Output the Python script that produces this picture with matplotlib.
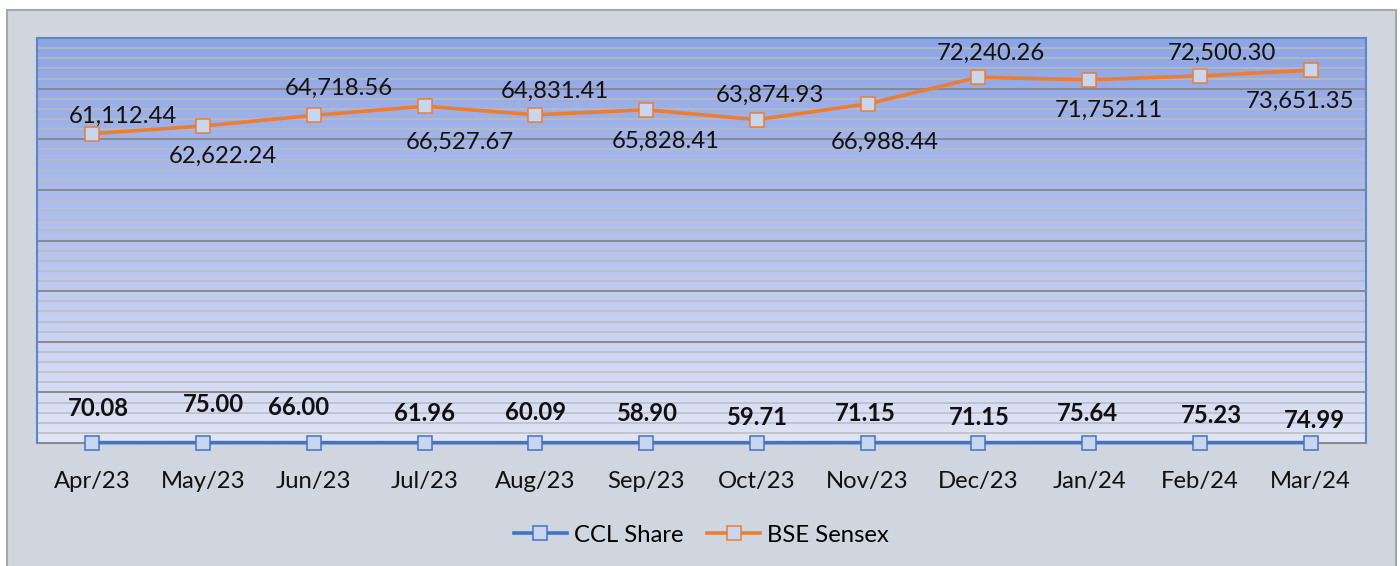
import numpy
from matplotlib import pyplot
from matplotlib.patches import Rectangle
from matplotlib.colors import LinearSegmentedColormap
from matplotlib.ticker import MultipleLocator

months = ['Apr/23', 'May/23', 'Jun/23', 'Jul/23', 'Aug/23', 'Sep/23',
          'Oct/23', 'Nov/23', 'Dec/23', 'Jan/24', 'Feb/24', 'Mar/24']
ccl_share = [70.08, 75.00, 66.00, 61.96, 60.09, 58.90,
             59.71, 71.15, 71.15, 75.64, 75.23, 74.99]
bse_sensex = [61112.44, 62622.24, 64718.56, 66527.67, 64831.41, 65828.41,
              63874.93, 66988.44, 72240.26, 71752.11, 72500.30, 73651.35]

# label offsets in pixels (dx, dy) - the labels were placed by hand in the original
sensex_dx = [30, 20, 25, 35, 19, 20, 13, 17, 13, 20, 22, -11]
sensex_dy = [17, -30, 27, -36, 23, -32, 24, -38, 24, -31, 23, -31]
ccl_dx = [6, 10, -15, 0, 0, 0, 0, -2, 1, -2, 12, 4]
ccl_dy = [34, 38, 35, 29, 30, 29, 25, 29, 25, 29, 27, 22]

pyplot.rcParams['font.family'] = ['Lato', 'DejaVu Sans']
FS = 17.2

W, H = 1400, 566
fig = pyplot.figure(figsize=(W / 100, H / 100), dpi=100)
fig.patch.set_facecolor('white')

# outer chart area
fig.patches.append(Rectangle((7 / W, -0.05), (1396 - 7) / W, 1.05 - 10 / H,
                             transform=fig.transFigure, facecolor='#d0d6e0',
                             edgecolor='#a6a6a6', linewidth=1.5, zorder=-10))

ax = fig.add_axes([37 / W, 1 - 443 / H, (1366 - 37) / W, (443 - 38) / H])
ax.set_facecolor('none')

# gradient plot area
grad = LinearSegmentedColormap.from_list('g', ['#e0e5f7', '#b4c2ee', '#8ea5e5'])
ax.imshow(numpy.linspace(1, 0, 256).reshape(-1, 1), cmap=grad, aspect='auto',
          extent=(0, 1, 0, 1), transform=ax.transAxes, zorder=0, vmin=0, vmax=1)

x = numpy.arange(len(months))
ax.set_xlim(-0.5, len(months) - 0.5)
ax.set_ylim(0, 80000)
ax.yaxis.set_major_locator(MultipleLocator(10000))
ax.yaxis.set_minor_locator(MultipleLocator(2000))
ax.grid(which='minor', axis='y', color='#bcbcbc', linewidth=1.1, zorder=1)
ax.grid(which='major', axis='y', color='#8a8a8a', linewidth=1.4, zorder=1)
ax.set_axisbelow(True)
ax.tick_params(axis='y', which='both', left=False, labelleft=False)
ax.tick_params(axis='x', length=0, pad=20, labelsize=FS, labelcolor='#111111')
ax.set_xticks(x)
ax.set_xticklabels(months)

for side in ['left', 'right', 'top']:
    ax.spines[side].set_color('#5b86c8')
    ax.spines[side].set_linewidth(1.5)
ax.spines['bottom'].set_color('#8a8a8a')

ax.plot(x, ccl_share, color='#4472c4', linewidth=2.6, marker='s', markersize=10,
        markerfacecolor='#c9d6f0', markeredgecolor='#4472c4', markeredgewidth=1.1,
        label='CCL Share', zorder=5, clip_on=False)
ax.plot(x, bse_sensex, color='#ed7d31', linewidth=2.6, marker='s', markersize=10,
        markerfacecolor='#c9d6f0', markeredgecolor='#ed7d31', markeredgewidth=1.1,
        label='BSE Sensex', zorder=5)

for i, v in enumerate(bse_sensex):
    ax.annotate(f"{v:,.2f}", xy=(x[i], v), xytext=(sensex_dx[i], sensex_dy[i]),
                textcoords='offset pixels', ha='center', va='center',
                fontsize=FS, color='#111111', zorder=6)

for i, v in enumerate(ccl_share):
    ax.annotate(f"{v:.2f}", xy=(x[i], v), xytext=(ccl_dx[i], ccl_dy[i]),
                textcoords='offset pixels', ha='center', va='center',
                fontsize=FS, fontweight='bold', color='#111111', zorder=6)

ax.legend(loc='center', bbox_to_anchor=(0.5, (1 - 535 / H - (1 - 443 / H)) / ((443 - 38) / H)),
          ncol=2, frameon=False, fontsize=FS, handlelength=2.2, columnspacing=1.0,
          handletextpad=0.3)

fig.savefig('out.png', dpi=100)
